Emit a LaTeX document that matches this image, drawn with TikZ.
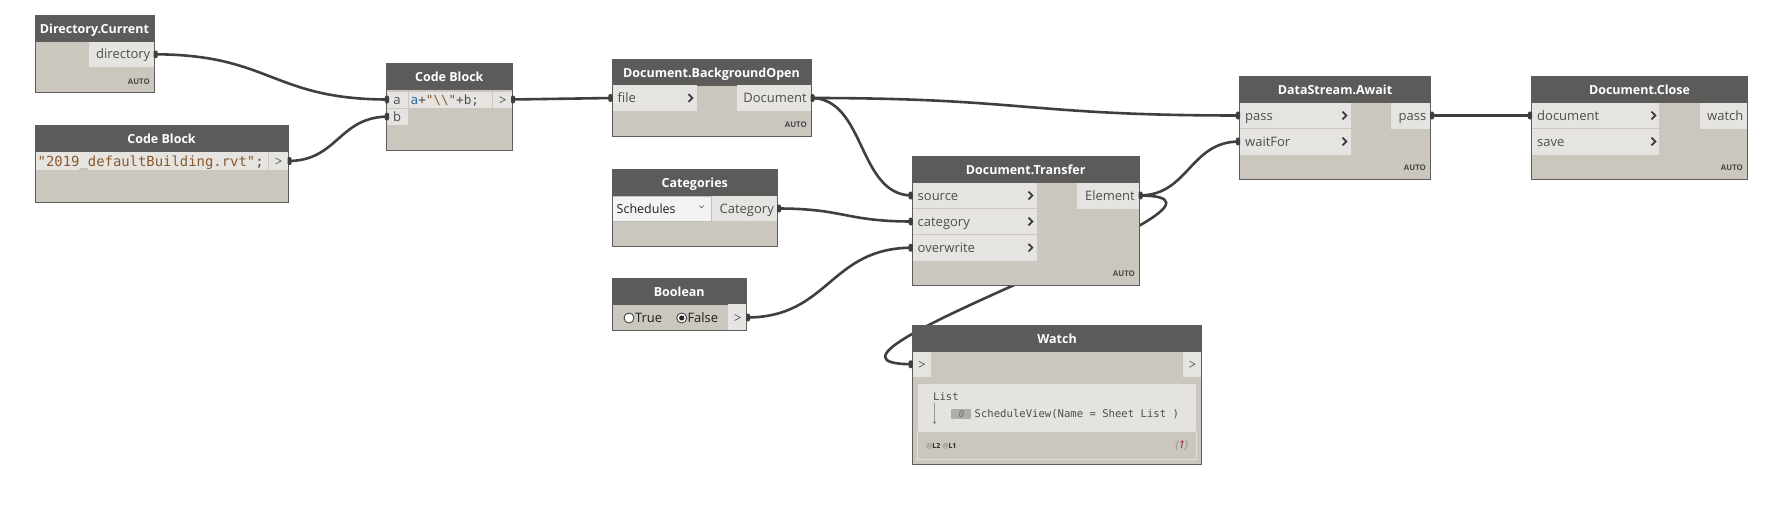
\documentclass[tikz,border=0pt]{standalone}
\usepackage{fontspec}
\setmainfont{Open Sans}
\newfontfamily\codef{DejaVu Sans Mono}
\usetikzlibrary{calc}
\definecolor{hdrc}{HTML}{5D5B59}
\definecolor{bodyc}{HTML}{CBC7BF}
\definecolor{cellc}{HTML}{E6E4E0}
\definecolor{borderc}{HTML}{5F5D5B}
\definecolor{wirec}{HTML}{3F3F3F}
\definecolor{ptc}{HTML}{4E4E4E}
\definecolor{autoc}{HTML}{484848}
\definecolor{strc}{HTML}{8A5A2E}
\definecolor{varc}{HTML}{2C6C9A}
\definecolor{panelc}{HTML}{E5E3DF}
\definecolor{ddc}{HTML}{F3F3F3}
\definecolor{ddb}{HTML}{C2C0BC}
\definecolor{chevc}{HTML}{3A3A3A}
\definecolor{gtc}{HTML}{5A5A5A}
\definecolor{treec}{HTML}{9A9894}
\definecolor{idxc}{HTML}{B0AEAA}
\definecolor{barb}{HTML}{E3E0DB}
\definecolor{onec}{HTML}{8B1A1A}
\tikzset{
  boxbody/.style={fill=bodyc, draw=none, inner sep=0pt, outer sep=0pt},
  ttl/.style={text=white, font=\bfseries\fontsize{12.5}{14}\selectfont, inner sep=0pt, text height=8.9pt, text depth=0pt},
  ptxt/.style={text=ptc, font=\fontsize{13}{15}\selectfont, inner sep=0pt, text height=9.3pt, text depth=0pt},
  autot/.style={text=autoc, font=\bfseries\fontsize{7.8}{9}\selectfont, inner sep=0pt, text height=5.6pt, text depth=0pt, anchor=east},
  codet/.style={font=\codef\fontsize{13.9}{15}\selectfont, inner sep=0pt, text height=10.1pt, text depth=0pt, text=ptc},
  codes/.style={font=\codef\fontsize{12.6}{14}\selectfont, inner sep=0pt, text height=9.2pt, text depth=0pt, text=ptc},
  wtxt/.style={font=\codef\fontsize{10.6}{12}\selectfont, inner sep=0pt, text height=7.7pt, text depth=0pt, text=ptc},
  wire/.style={draw=wirec, line width=2.6pt},
  chevst/.style={draw=chevc, line width=1.7pt},
  gtst/.style={draw=gtc, line width=0.7pt},
}
\newcommand\dbox[7]{%
  \node[boxbody, anchor=north west, minimum width={(#4-#2)*1pt}, minimum height={(#5-#3)*1pt}] (#1) at (#2,#3) {};
  \fill[hdrc] (#2,#3) rectangle (#4,{#3+26.5});
  \node[ttl] (#1-title) at ({(#2+#4)/2},{#3+14}) {#6};
  #7
  \draw[borderc, line width=0.9pt] (#2,#3) rectangle (#4,#5);
}
\newcommand\cell[4]{\fill[cellc] (#1,#2) rectangle (#3,#4);}
\newcommand\chev[2]{\draw[chevst] ({#1-2},{#2-3.8}) -- ({#1+1.8},#2) -- ({#1-2},{#2+3.8});}
\newcommand\gtm[2]{\draw[gtst] ({#1-2.8},{#2-3}) -- ({#1+2.8},#2) -- ({#1-2.8},{#2+3});}
\newcommand\wireto[3]{\draw[wire] (#1) .. controls ($(#1)+(#3,0)$) and ($(#2)+(-#3,0)$) .. (#2);}
\newcommand\outpin[1]{\fill[wirec, rounded corners=1.2pt] ($(#1)+(-0.5,-3.8)$) rectangle ($(#1)+(3.6,3.8)$);}
\newcommand\inpin[1]{\fill[wirec, rounded corners=1.2pt] ($(#1)+(-3.6,-3.8)$) rectangle ($(#1)+(0.5,3.8)$);}
\begin{document}
\begin{tikzpicture}[x=1pt,y=-1pt]
\fill[white] (0,0) rectangle (1784,506);
\useasboundingbox (0,0) rectangle (1784,506);
% port coordinates
\coordinate (dir-o) at (154,54.3);
\coordinate (cbs-o) at (288,161);
\coordinate (cba-a) at (388.5,99.5);
\coordinate (cba-b) at (388.5,116.6);
\coordinate (cba-o) at (511.5,99.5);
\coordinate (dbo-file) at (612,98);
\coordinate (dbo-doc) at (811,98);
\coordinate (cat-o) at (777.5,208.5);
\coordinate (bool-o) at (746.5,317.5);
\coordinate (dt-src) at (912.3,195.5);
\coordinate (dt-cat) at (912.3,221.5);
\coordinate (dt-ow) at (912.3,247.7);
\coordinate (dt-el) at (1139,195.5);
\coordinate (dsa-pass) at (1239.5,115.5);
\coordinate (dsa-wait) at (1239.5,141.5);
\coordinate (dsa-o) at (1430.5,115.5);
\coordinate (dcl-doc) at (1531.5,115.5);
\coordinate (wat-in) at (912.3,364.2);
% wires
\wireto{dir-o}{cba-a}{117}
\wireto{cbs-o}{cba-b}{50}
\wireto{cba-o}{dbo-file}{50}
\wireto{dbo-doc}{dsa-pass}{214}
\wireto{dbo-doc}{dt-src}{55}
\wireto{cat-o}{dt-cat}{67}
\wireto{bool-o}{dt-ow}{83}
\wireto{dt-el}{dsa-wait}{50}
\wireto{dt-el}{wat-in}{150}
\wireto{dsa-o}{dcl-doc}{50}
% nodes
\dbox{dir}{35}{15}{154}{92.5}{Directory.Current}{
  \cell{89}{42}{154}{66.5}
  \node[ptxt, anchor=east] (dir-p) at (150.5,54.3) {directory};
  \node[autot] (dir-auto) at (150,82) {AUTO};
}
\dbox{cbs}{35}{125}{288}{202.5}{Code Block}{
  \cell{35}{152}{268}{170}
  \cell{269}{152}{288}{170}
  \node[codet, anchor=west] (cbs-code) at (37.5,161) {\textcolor{strc}{"2019\_defaultBuilding.rvt"};};
  \gtm{278.3}{161}
}
\dbox{cba}{386}{63.5}{512.5}{150.5}{Code Block}{
  \cell{386}{92}{407.7}{107.7}
  \cell{409}{92}{492.3}{107.7}
  \cell{493.3}{92}{512.5}{107.7}
  \cell{386}{108.5}{407.7}{125}
  \node[ptxt] (cba-at) at (397,99.7) {a};
  \node[ptxt] (cba-bt) at (397,116.6) {b};
  \node[codes, anchor=west] (cba-code) at (410.5,99.7) {\textcolor{varc}{a}+\textcolor{strc}{"\textbackslash\textbackslash"}+b;};
  \gtm{502.5}{99.7}
}
\dbox{dbo}{612}{59}{811}{136.5}{Document.BackgroundOpen}{
  \cell{612}{85}{697}{111}
  \cell{736.5}{85}{811}{111}
  \node[ptxt, anchor=west] (dbo-ft) at (617.5,98) {file};
  \chev{690.5}{98}
  \node[ptxt, anchor=east] (dbo-dt) at (807,98) {Document};
  \node[autot] (dbo-auto) at (807,125) {AUTO};
}
\dbox{cat}{612}{169}{777.5}{246}{Categories}{
  \draw[fill=ddc, draw=ddb, line width=0.8pt] (612.5,196.2) rectangle (711.5,221);
  \node[ptxt, anchor=west, text=black!88, font=\fontsize{12.5}{14}\selectfont] (cat-dd) at (616.5,208.5) {Schedules};
  \draw[gtc, line width=0.6pt] (699.3,205.5) -- (701.5,208) -- (703.7,205.5);
  \cell{712}{195.7}{777.5}{221}
  \node[ptxt, anchor=east] (cat-ct) at (774,208.5) {Category};
}
\dbox{bool}{612}{278.5}{746.5}{330.5}{Boolean}{
  \cell{728.3}{304.3}{746.5}{330.5}
  \gtm{737.4}{317.5}
  \draw[fill=white, draw=black!80, line width=0.8pt] (629,318) circle (5);
  \node[ptxt, anchor=west, text=black!88] (bool-t) at (634.8,318) {True};
  \draw[fill=white, draw=black!80, line width=0.8pt] (681.7,318) circle (5);
  \fill[black!85] (681.7,318) circle (2.6);
  \node[ptxt, anchor=west, text=black!88] (bool-f) at (687.3,318) {False};
}
\dbox{dt}{912.3}{156.3}{1139}{285}{Document.Transfer}{
  \cell{912.3}{182.7}{1037}{208.2}
  \cell{912.3}{209.2}{1037}{234.2}
  \cell{912.3}{235.2}{1037}{260.7}
  \node[ptxt, anchor=west] (dt-s) at (917.5,195.5) {source};
  \node[ptxt, anchor=west] (dt-c) at (917.5,221.5) {category};
  \node[ptxt, anchor=west] (dt-o) at (917.5,247.7) {overwrite};
  \chev{1030.5}{195.5}
  \chev{1030.5}{221.5}
  \chev{1030.5}{247.7}
  \cell{1076.8}{182.7}{1139}{208.7}
  \node[ptxt, anchor=east] (dt-e) at (1135,195.5) {Element};
  \node[autot] (dt-auto) at (1135,274) {AUTO};
}
\dbox{dsa}{1239.5}{76}{1430.5}{179.3}{DataStream.Await}{
  \cell{1239.5}{102.7}{1351}{128.2}
  \cell{1239.5}{129.2}{1351}{154.5}
  \node[ptxt, anchor=west] (dsa-p) at (1245,115.5) {pass};
  \node[ptxt, anchor=west] (dsa-w) at (1245,141.5) {waitFor};
  \chev{1344.5}{115.5}
  \chev{1344.5}{141.5}
  \cell{1391}{102.7}{1430.5}{128.7}
  \node[ptxt, anchor=east] (dsa-po) at (1426.5,115.5) {pass};
  \node[autot] (dsa-auto) at (1426,168) {AUTO};
}
\dbox{dcl}{1531.5}{76}{1747.5}{179.3}{Document.Close}{
  \cell{1531.5}{102.7}{1659}{128.2}
  \cell{1531.5}{129.2}{1659}{154.5}
  \node[ptxt, anchor=west] (dcl-d) at (1537,115.5) {document};
  \node[ptxt, anchor=west] (dcl-s) at (1537,141.5) {save};
  \chev{1653.5}{115.5}
  \chev{1653.5}{141.5}
  \cell{1700}{102.7}{1747.5}{128.7}
  \node[ptxt, anchor=east] (dcl-w) at (1743.5,115.5) {watch};
  \node[autot] (dcl-auto) at (1743,168) {AUTO};
}
\dbox{wat}{912.3}{325}{1201.7}{464}{Watch}{
  \cell{912.3}{351.7}{931}{376.7}
  \cell{1182.7}{351.7}{1201.7}{376.7}
  \gtm{921.6}{364.2}
  \gtm{1192.2}{364.2}
  \fill[panelc] (917.7,384) rectangle (1196,431);
  \draw[barb, line width=0.8pt] (917.7,431.8) rectangle (1196,459.3);
  \node[wtxt, anchor=west] (wat-list) at (933,396.7) {List};
  \draw[treec, line width=0.8pt] (934.5,403) -- (934.5,421);
  \fill[treec] (934.5,422.3) circle (1.8);
  \fill[idxc] (951,409.3) rectangle (970.7,418.7);
  \node[font=\codef\itshape\fontsize{9.5}{10}\selectfont, text=black!55, inner sep=0pt] (wat-idx) at (961.5,414) {0};
  \node[wtxt, anchor=west] (wat-val) at (974.5,414) {ScheduleView(Name = Sheet List )};
  \node[font=\bfseries\fontsize{7}{8}\selectfont, text=black!85, inner sep=0pt, anchor=west] (wat-lv) at (926,446) {\textcolor{black!40}{@}L2 \textcolor{black!40}{@}L1};
  \node[font=\itshape\fontsize{10.5}{12}\selectfont, inner sep=0pt, anchor=east] (wat-cnt) at (1188.5,446) {\textcolor{black!45}{\{}\textcolor{onec}{1}\textcolor{black!45}{\}}};
}
% wire end markers
\outpin{dir-o}
\outpin{cbs-o}
\outpin{cba-o}
\outpin{dbo-doc}
\outpin{cat-o}
\outpin{bool-o}
\outpin{dt-el}
\outpin{dsa-o}
\inpin{cba-a}
\inpin{cba-b}
\inpin{dbo-file}
\inpin{dt-src}
\inpin{dt-cat}
\inpin{dt-ow}
\inpin{dsa-pass}
\inpin{dsa-wait}
\inpin{dcl-doc}
\inpin{wat-in}
\end{tikzpicture}
\end{document}
